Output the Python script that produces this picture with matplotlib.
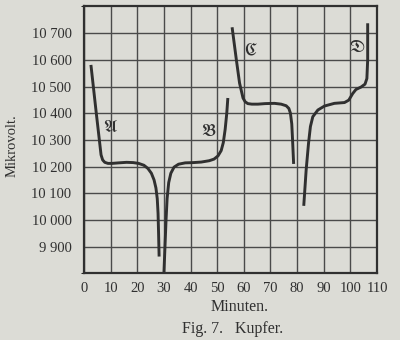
import matplotlib.pyplot as plt
from matplotlib.ticker import MultipleLocator

# Kupfer, Mikrovolt vs Minuten
a_min = [2.6, 4.5, 6.4, 7.0, 7.8, 9.0, 10.5, 13.0, 16.0, 18.5, 20.5, 22.5, 24.0, 25.3, 26.3, 27.0, 27.5, 27.8, 28.0, 28.2]
a_uv = [10581, 10410, 10244, 10225, 10216, 10212, 10212, 10214, 10216, 10215, 10212, 10205, 10193, 10175, 10150, 10120, 10080, 10025, 9950, 9863]

b_min = [30.0, 30.4, 30.8, 31.2, 31.8, 32.6, 33.8, 35.5, 38.0, 41.0, 44.0, 47.0, 48.8, 50.3, 51.5, 52.3, 53.0, 53.6, 54.0]
b_uv = [9800, 9900, 10000, 10080, 10140, 10175, 10198, 10209, 10214, 10215, 10217, 10222, 10228, 10240, 10260, 10290, 10340, 10400, 10457]

c_min = [55.6, 57.2, 58.4, 59.7, 60.5, 61.5, 63.0, 65.3, 68.0, 71.5, 74.0, 75.9, 76.9, 77.5, 78.0, 78.3, 78.7]
c_uv = [10722, 10600, 10513, 10457, 10443, 10436, 10434, 10434, 10436, 10437, 10434, 10428, 10418, 10400, 10360, 10300, 10210]

d_min = [82.5, 83.4, 84.3, 85.0, 85.9, 87.8, 90.3, 94.0, 97.8, 99.4, 100.9, 102.1, 104.0, 105.5, 106.2, 106.5, 106.5]
d_uv = [10053, 10187, 10288, 10350, 10387, 10412, 10427, 10437, 10440, 10449, 10474, 10489, 10498, 10509, 10530, 10600, 10737]

curve_names = [r"$\mathfrak{A}$", r"$\mathfrak{B}$", r"$\mathfrak{C}$", r"$\mathfrak{D}$"]
name_min = [9.8, 46.8, 62.5, 102.5]
name_uv = [10345, 10330, 10630, 10645]

paper = "#dcdcd6"
ink = "#303030"

plt.rcParams["font.family"] = ["Liberation Serif", "DejaVu Serif"]

fig = plt.figure(figsize=(4, 3.4), dpi=100, facecolor=paper)
ax = fig.add_axes([0.21, 0.196, 0.7325, 0.785], facecolor=paper)

ax.set_xlim(0, 110)
ax.set_ylim(9800, 10800)
ax.xaxis.set_major_locator(MultipleLocator(10))
ax.yaxis.set_major_locator(MultipleLocator(100))
ax.grid(True, color="#4a4a4a", linewidth=1.0)
ax.set_axisbelow(True)

for x, y in [(a_min, a_uv), (b_min, b_uv), (c_min, c_uv), (d_min, d_uv)]:
    ax.plot(x, y, color=ink, linewidth=2.1, solid_joinstyle="round", solid_capstyle="butt")

for name, x, y in zip(curve_names, name_min, name_uv):
    ax.text(x, y, name, fontsize=12.5, color=ink, ha="center", va="center",
            style="italic", math_fontfamily="stix")

xticks = list(range(0, 111, 10))
ax.set_xticks(xticks)
ax.set_xticklabels([str(t) for t in xticks])
yticks = list(range(9900, 10701, 100))
ax.set_yticks(yticks)
ax.set_yticklabels([f"{t:,}".replace(",", " ") for t in yticks])
ax.set_yticks([9800, 10800], minor=True)
ax.tick_params(axis="both", length=0, labelsize=10.5, colors=ink)
ax.tick_params(axis="x", pad=6)
ax.tick_params(axis="y", pad=9)
for lab in ax.get_xticklabels():
    lab.set_x(lab.get_position()[0])

for s in ax.spines.values():
    s.set_linewidth(1.6)
    s.set_color(ink)

fig.text(240 / 400, 1 - 307 / 340, "Minuten.", fontsize=11.5, color=ink, ha="center", va="center")
fig.text(233 / 400, 1 - 329 / 340, "Fig. 7.   Kupfer.", fontsize=11.5, color=ink, ha="center", va="center")
fig.text(12 / 400, 1 - 146 / 340, "Mikrovolt.", fontsize=10.5, color=ink, ha="center", va="center", rotation=90)

fig.savefig("out.png", dpi=100, facecolor=paper)
